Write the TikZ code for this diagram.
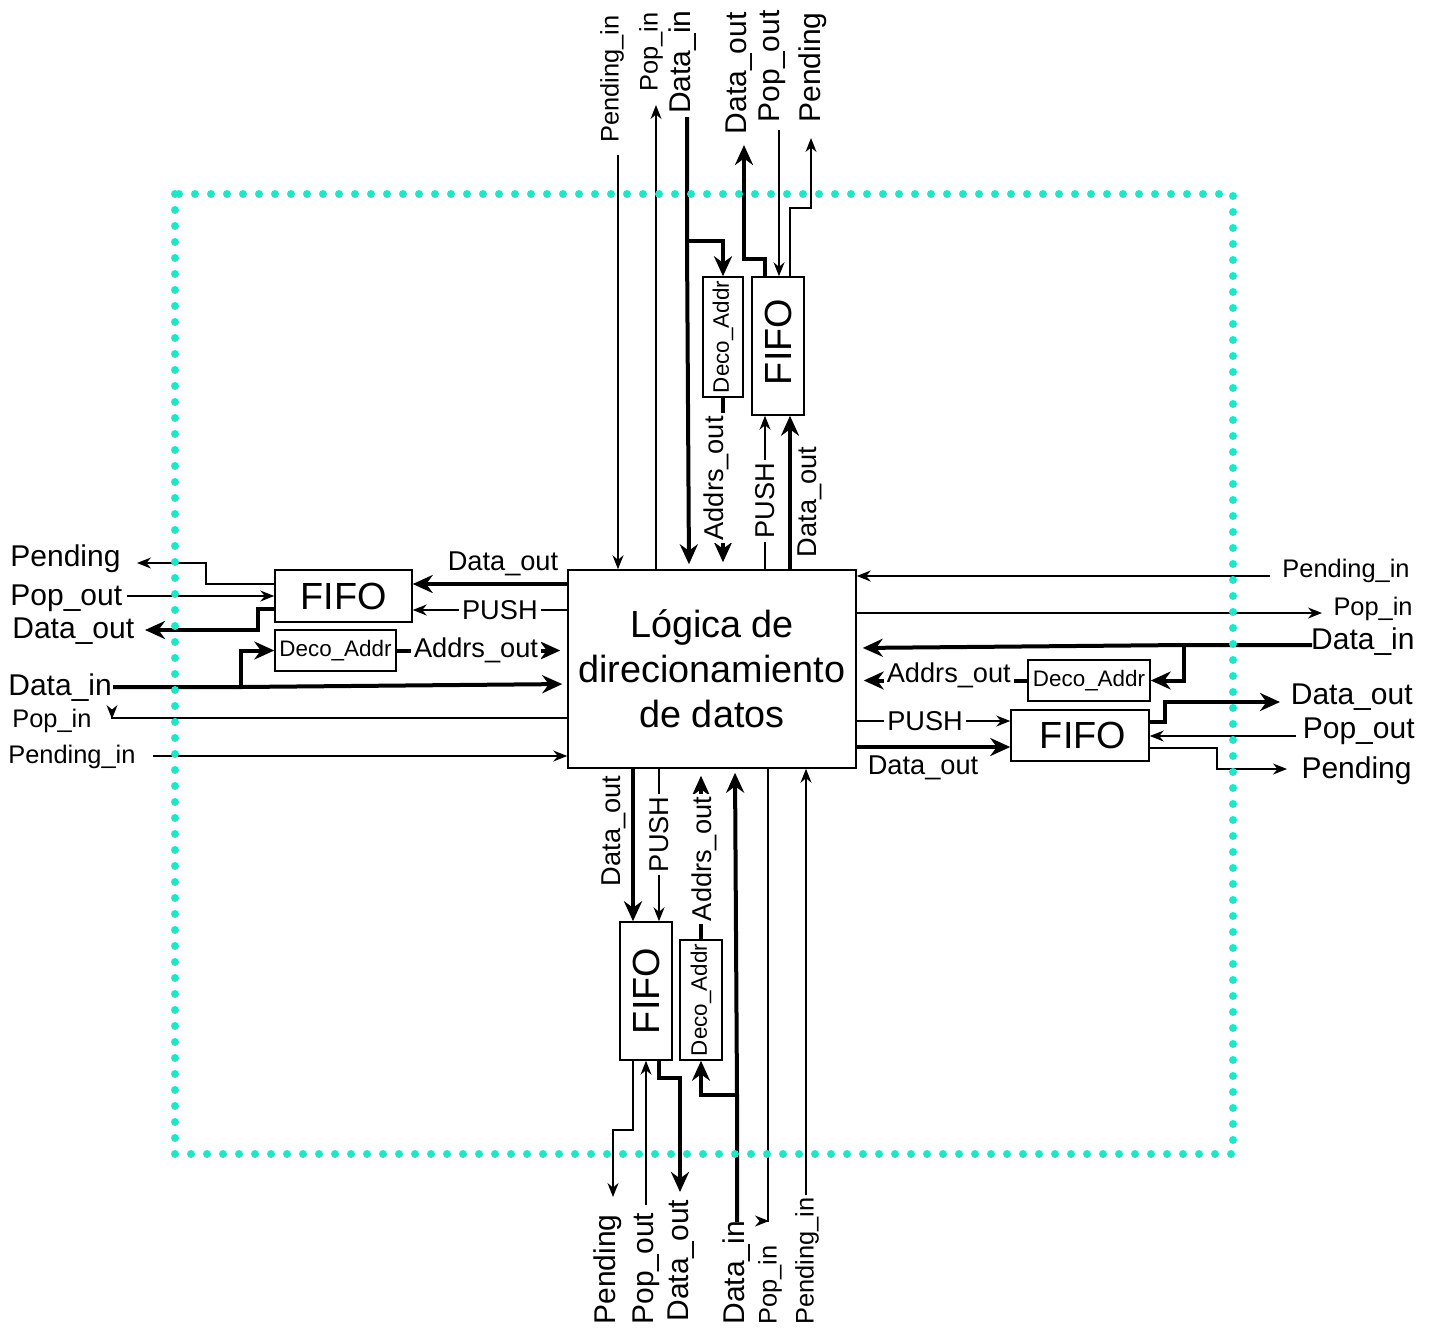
\documentclass[tikz,border=0pt]{standalone}
\usepackage{fontspec}
\setmainfont{Liberation Sans}
\usepackage{xcolor}
\usepackage{tikz}
\usetikzlibrary{arrows.meta}
\definecolor{dotcyan}{RGB}{32,230,200}
\newcommand\fntlogic{\fontsize{18.9pt}{22.5pt}\selectfont}
\newcommand\fntfifo{\fontsize{18.9pt}{22pt}\selectfont}
\newcommand\fntdeco{\fontsize{11.2pt}{13pt}\selectfont}
\newcommand\fntin{\fontsize{13.6pt}{16pt}\selectfont}
\newcommand\fntbig{\fontsize{15pt}{18pt}\selectfont}
\newcommand\fntsmall{\fontsize{12.7pt}{15pt}\selectfont}
\tikzset{
  box/.style={draw,line width=0.75pt,inner sep=0pt},
  sig/.style={line width=0.75pt,>={Stealth[length=7pt,width=5.5pt]}},
  bus/.style={line width=2pt,>={Stealth[length=10pt,width=9pt]}},
  lbl/.style={inner sep=0pt,font=\fntin},
  inl/.style={fill=white,inner sep=1.5pt,font=\fntin},
  outB/.style={inner sep=0pt,font=\fntbig},
  outS/.style={inner sep=0pt,font=\fntsmall},
  frame/.style={draw=dotcyan,line width=4pt,line cap=round,dash pattern=on 0pt off 8pt}
}
\begin{document}
\begin{tikzpicture}[x=0.5pt,y=-0.5pt]
            \useasboundingbox (0,0) rectangle (1437,1330);

            % Main block
            \node[box,minimum width=144pt,minimum height=99pt] (logic) at (712,669) {};
            \node[align=center,font=\fntlogic] at (logic) {Lógica de\\direcionamiento\\de datos};

            % Free ends of the ports
            \coordinate (wPendTip) at (137,563);
            \coordinate (wPopOutEnd) at (127,596);
            \coordinate (wDataOutTip) at (145,630);
            \coordinate (wDataInEnd) at (113,687);
            \coordinate (wPopInTip) at (112,718);
            \coordinate (wPendInEnd) at (153,756);
            \coordinate (ePendInEnd) at (1270,576);
            \coordinate (ePopInTip) at (1322,613);
            \coordinate (eDataInEnd) at (1312,645);
            \coordinate (eDataOutTip) at (1280,702);
            \coordinate (ePopOutEnd) at (1296,736);
            \coordinate (ePendTip) at (1287,769);
            \coordinate (nPendInEnd) at (618,155);
            \coordinate (nPopInTip) at (656,105);
            \coordinate (nDataInEnd) at (687,117);
            \coordinate (nDataOutTip) at (744,145);
            \coordinate (nPopOutEnd) at (779,130);
            \coordinate (nPendTip) at (811,138);
            \coordinate (sPendTip) at (613,1197);
            \coordinate (sPopOutEnd) at (646,1205);
            \coordinate (sDataOutTip) at (680,1192);
            \coordinate (sDataInEnd) at (737,1222);
            \coordinate (sPopInTip) at (768,1221);
            \coordinate (sPendInEnd) at (806,1195);

            % West side
            \node[box,minimum width=68.5pt,minimum height=26pt] (fifoW) at (343.5,596) {};
            \node[font=\fntfifo] at (fifoW) {FIFO};
            \node[box,minimum width=60.5pt,minimum height=20.5pt] (decoW) at (335.5,650.5) {};
            \node[font=\fntdeco] at (decoW) {Deco\_Addr};
            \node[outB,anchor=west] (wPend) at (10,559) {Pending};
            \node[outB,anchor=west] (wPopOut) at (10,598) {Pop\_out};
            \node[outB,anchor=west] (wDataOut) at (12,631) {Data\_out};
            \node[outB,anchor=west] (wDataIn) at (8,688) {Data\_in};
            \node[outS,anchor=west] (wPopIn) at (12,721) {Pop\_in};
            \node[outS,anchor=west] (wPendIn) at (8,757) {Pending\_in};
            \node[lbl] (wDOlbl) at (503,564) {Data\_out};
            \draw[sig,->] (fifoW.west |- 0,584) -| (206,563) -- (wPendTip);
            \draw[sig,->] (wPopOutEnd) -- (fifoW.west |- 0,596);
            \draw[bus,->] (fifoW.west |- 0,609) -| (258,630) -- (wDataOutTip);
            \draw[bus,->,shorten >=2.5pt] (wDataInEnd) -- (241,687) -- (logic.west |- 0,684);
            \draw[bus,->] (241,689) |- (decoW.west);
            \draw[sig,->] (logic.west |- 0,718) -- (wPopInTip) -- ++(0,1);
            \draw[sig,->] (wPendInEnd) -- (logic.west |- 0,756);
            \draw[bus,->] (logic.west |- 0,584) -- (fifoW.east |- 0,584);
            \draw[sig,->] (logic.west |- 0,610) -- node[inl,pos=0.436] {PUSH} (fifoW.east |- 0,610);
            \draw[bus,->,shorten >=3.5pt] (decoW.east) -- node[inl,pos=0.465] {Addrs\_out} (logic.west |- decoW.east);

            % East side
            \node[box,minimum width=69pt,minimum height=25.5pt] (fifoE) at (1080,735.5) {};
            \node[font=\fntfifo] at (1083,735.5) {FIFO};
            \node[box,minimum width=61pt,minimum height=20.5pt] (decoE) at (1089,680.5) {};
            \node[font=\fntdeco] at (decoE) {Deco\_Addr};
            \node[outS,anchor=east] (ePendIn) at (1410,571) {Pending\_in};
            \node[outS,anchor=east] (ePopIn) at (1413,609) {Pop\_in};
            \node[outB,anchor=east] (eDataIn) at (1415,642) {Data\_in};
            \node[outB,anchor=east] (eDataOut) at (1413,697) {Data\_out};
            \node[outB,anchor=east] (ePopOut) at (1415,731) {Pop\_out};
            \node[outB,anchor=east] (ePend) at (1412,771) {Pending};
            \node[lbl] (eDOlbl) at (923,768) {Data\_out};
            \draw[sig,->] (ePendInEnd) -- (logic.east |- 0,576);
            \draw[sig,->] (logic.east |- 0,613) -- (ePopInTip);
            \draw[bus,->,shorten >=3pt] (eDataInEnd) -- (1184,645) -- (logic.east |- 0,648);
            \draw[bus,->] (1184,643) |- (decoE.east);
            \draw[bus,->,shorten >=3.5pt] (decoE.west) -- node[inl,yshift=2.5pt,pos=0.46] {Addrs\_out} (logic.east |- decoE.west);
            \draw[sig,->] (logic.east |- 0,721) -- node[inl,pos=0.445] {PUSH} (fifoE.west |- 0,721);
            \draw[bus,->] (logic.east |- 0,747) -- (fifoE.west |- 0,747);
            \draw[bus,->] (fifoE.east |- 0,722) -| (1165,702) -- (eDataOutTip);
            \draw[sig,->] (ePopOutEnd) -- (fifoE.east |- 0,736);
            \draw[sig,->] (fifoE.east |- 0,748) -| (1217,769) -- (ePendTip);

            % North side
            \node[box,minimum width=26pt,minimum height=69pt] (fifoN) at (778,346) {};
            \node[font=\fntfifo,rotate=90] at (778,342) {FIFO};
            \node[box,minimum width=20pt,minimum height=60pt] (decoN) at (723,337) {};
            \node[font=\fntdeco,rotate=90] at (decoN) {Deco\_Addr};
            \node[outS,rotate=90,anchor=east] (nPendIn) at (612,15) {Pending\_in};
            \node[outS,rotate=90,anchor=east] (nPopIn) at (651,12) {Pop\_in};
            \node[outB,rotate=90,anchor=east] (nDataIn) at (683,10) {Data\_in};
            \node[outB,rotate=90,anchor=east] (nDataOut) at (739,12) {Data\_out};
            \node[outB,rotate=90,anchor=east] (nPopOut) at (772,10) {Pop\_out};
            \node[outB,rotate=90,anchor=east] (nPend) at (813,12) {Pending};
            \node[lbl,rotate=90] (nDOlbl) at (810,502) {Data\_out};
            \draw[sig,->] (nPendInEnd) -- (logic.north -| 618,0);
            \draw[sig,->] (logic.north -| 656,0) -- (nPopInTip);
            \draw[bus,->,shorten >=2.5pt] (nDataInEnd) -- (687,241) -- (logic.north -| 689,0);
            \draw[bus,->] (685,241) -| (decoN.north);
            \draw[bus,->] (fifoN.north -| 765,0) |- (744,259) -- (nDataOutTip);
            \draw[sig,->] (nPopOutEnd) -- (fifoN.north -| 779,0);
            \draw[sig,->] (fifoN.north -| 790,0) |- (811,208) -- (nPendTip);
            \draw[bus,->,shorten >=3.5pt] (decoN.south) -- node[inl,xshift=-3.5pt,rotate=90,pos=0.47] {Addrs\_out} (logic.north -| decoN.south);
            \draw[sig,->] (logic.north -| 765,0) -- node[inl,rotate=90,pos=0.445] {PUSH} (fifoN.south -| 765,0);
            \draw[bus,->] (logic.north -| 790,0) -- (fifoN.south -| 790,0);

            % South side
            \node[box,minimum width=26pt,minimum height=69pt] (fifoS) at (646,991) {};
            \node[font=\fntfifo,rotate=90] at (fifoS) {FIFO};
            \node[box,minimum width=21pt,minimum height=60pt] (decoS) at (701,1000) {};
            \node[font=\fntdeco,rotate=90] at (decoS) {Deco\_Addr};
            \node[outB,rotate=90,anchor=west] (sPend) at (608,1325) {Pending};
            \node[outB,rotate=90,anchor=west] (sPopOut) at (646,1325) {Pop\_out};
            \node[outB,rotate=90,anchor=west] (sDataOut) at (681,1322) {Data\_out};
            \node[outB,rotate=90,anchor=west] (sDataIn) at (737,1325) {Data\_in};
            \node[outS,rotate=90,anchor=west] (sPopIn) at (770,1325) {Pop\_in};
            \node[outS,rotate=90,anchor=west] (sPendIn) at (807,1325) {Pending\_in};
            \node[lbl,rotate=90] (sDOlbl) at (614,831) {Data\_out};
            \draw[bus,->] (logic.south -| 633,0) -- (fifoS.north -| 633,0);
            \draw[sig,->] (logic.south -| 659,0) -- node[inl,rotate=90,pos=0.43] {PUSH} (fifoS.north -| 659,0);
            \draw[bus,->,shorten >=3.5pt] (decoS.north) -- node[inl,xshift=1.5pt,rotate=90,pos=0.47] {Addrs\_out} (logic.south -| decoS.north);
            \draw[bus,->,shorten >=2pt] (sDataInEnd) -- (737,1095) -- (logic.south -| 735,0);
            \draw[bus,->] (739,1095) -| (decoS.south);
            \draw[sig,->] (logic.south -| 768,0) -- (sPopInTip) -- ++(1,0);
            \draw[sig,->] (sPendInEnd) -- (logic.south -| 806,0);
            \draw[sig,->] (fifoS.south -| 633,0) |- (613,1130) -- (sPendTip);
            \draw[sig,->] (sPopOutEnd) -- (fifoS.south -| 646,0);
            \draw[bus,->] (fifoS.south -| 659,0) |- (680,1078) -- (sDataOutTip);

            % Dotted boundary
            \draw[frame] (175,194) rectangle (1233,1154);
\end{tikzpicture}
\end{document}
